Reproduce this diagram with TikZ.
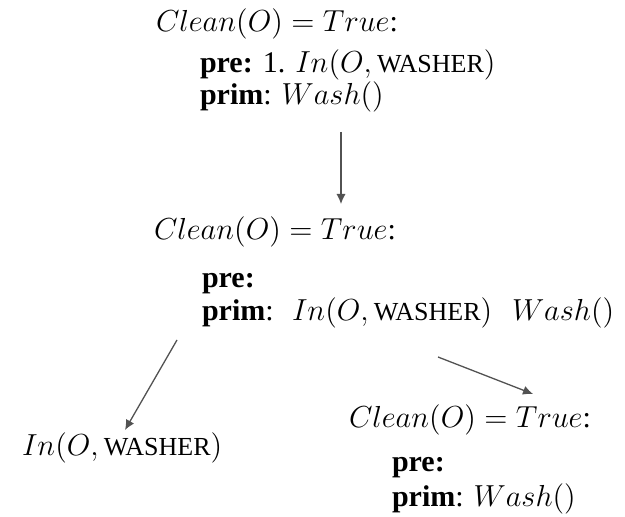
\RequirePackage{fix-cm}
\documentclass[tikz,border=0pt]{standalone}
\usepackage{amsmath}
\usepackage{fontspec}
\setmainfont{Liberation Serif}
\usetikzlibrary{arrows.meta}
% formulas in Computer Modern math at the same size as the serif text
\newcommand{\mth}[1]{{\fontsize{15.2}{18}\selectfont$#1$}}
% small-caps stand-in: upright capitals at reduced size
\newcommand{\washer}{\text{\normalfont\fontsize{13}{15}\selectfont WASHER}}
\newcommand{\goal}{\mth{Clean(O) = True}:}
\tikzset{
  txt/.style={anchor=base west, inner sep=0pt, outer sep=0pt,
    font=\fontsize{15}{18}\selectfont},
  link/.style={draw=black!68, line width=0.65pt, -{Latex[length=5pt,width=4.6pt]}}
}
\begin{document}
\begin{tikzpicture}[x=0.5pt, y=-0.5pt]
  \useasboundingbox (0,0) rectangle (625,517);
  % parent method
  \node[txt] (c1) at (156,32) {\goal};
  \node[txt] (p1) at (200,73) {\textbf{pre:} 1. \mth{In(O, \washer)}};
  \node[txt] (m1) at (200,105) {\textbf{prim}: \mth{Wash()}};
  % expanded method
  \node[txt] (c2) at (154,240) {\goal};
  \node[txt] (p2) at (202,288) {\textbf{pre:}};
  \node[txt] (m2) at (202,321) {\textbf{prim}:};
  \node[txt] (in2) at (292,321) {\mth{In(O, \washer)}};
  \node[txt] (w2) at (512,321) {\mth{Wash()}};
  % children
  \node[txt] (leaf) at (22,455) {\mth{In(O, \washer)}};
  \node[txt] (c3) at (349,427) {\goal};
  \node[txt] (p3) at (392,471) {\textbf{pre:}};
  \node[txt] (m3) at (392,506) {\textbf{prim}: \mth{Wash()}};
  % connector end points
  \coordinate (a1s) at (341,132);
  \coordinate (a1e) at (341,204);
  \coordinate (a2s) at (177,340);
  \coordinate (a2e) at (125,430);
  \coordinate (a3s) at (438,357);
  \coordinate (a3e) at (533,394);
  \draw[link] (a1s) -- (a1e);
  \draw[link] (a2s) -- (a2e);
  \draw[link] (a3s) -- (a3e);
\end{tikzpicture}
\end{document}
